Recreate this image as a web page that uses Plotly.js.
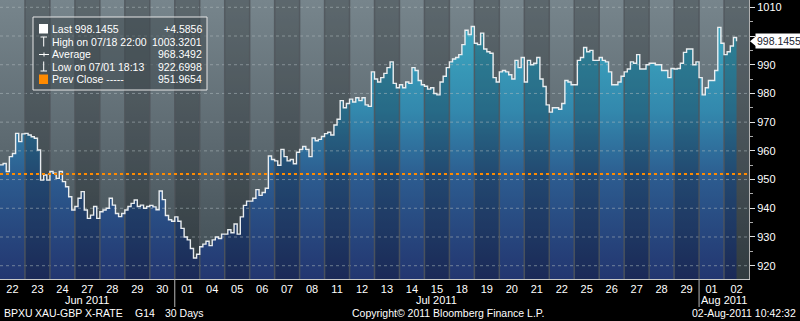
<!DOCTYPE html>
<html><head><meta charset="utf-8">
<script src="https://cdn.plot.ly/plotly-3.0.1.min.js"></script>
<style>html,body{margin:0;padding:0;background:#000;overflow:hidden}#chart{width:800px;height:321px;}</style>
</head><body><div id="chart"></div>
<script>
// ---- data ----
const days = ['22','23','24','27','28','29','30','01','04','05','06','07','08','11','12','13','14','15','18','19','20','21','22','25','26','27','28','29','01','02'];
const monthLabels = ['Jun 2011','Jul 2011','Aug 2011'];
const stepsPerDay = 8;
const price = [
 955.1,955.6,952.8,958.0,959.1,966.1,963.2,965.9,   // 22 Jun
 966.1,965.5,964.9,964.4,960.3,949.8,951.6,949.8,   // 23
 952.8,952.2,950.4,952.8,949.3,947.5,944.0,939.4,   // 24
 940.6,943.5,945.8,939.4,936.5,937.6,940.6,936.5,   // 27
 938.8,939.4,940.0,943.5,941.1,938.2,937.1,938.2,   // 28
 939.4,940.6,941.7,942.9,940.6,941.1,940.0,940.6,   // 29
 941.0,940.5,939.5,946.0,943.0,937.5,936.0,935.5,   // 30
 937.0,935.5,933.0,930.0,929.0,926.0,922.7,924.0,   // 01 Jul
 926.6,927.5,928.5,927.0,929.0,930.0,929.5,931.0,   // 04
 931.0,932.5,931.5,934.5,931.0,937.0,941.0,942.5,   // 05
 942.5,943.5,946.5,944.5,945.5,947.0,958.2,957.0,   // 06
 956.5,955.0,960.5,958.0,956.5,957.0,955.5,959.5,   // 07
 960.5,961.5,960.5,958.0,964.5,963.5,964.0,965.0,   // 08
 966.0,966.5,965.5,969.0,971.0,977.5,975.0,976.5,   // 11
 978.0,977.0,978.5,977.5,978.5,976.0,975.5,987.5,   // 12
 985.0,984.0,985.5,987.0,989.0,991.0,983.5,982.0,   // 13
 983.0,982.0,984.0,983.5,989.0,988.0,984.5,983.0,   // 14
 982.5,981.5,982.0,980.0,979.5,984.0,986.0,989.0,   // 15
 991.0,992.0,992.5,993.5,997.0,1002.0,1000.5,1003.3,// 18
 997.5,997.0,1001.0,995.5,994.5,994.0,985.5,984.0,  // 19
 987.5,988.0,987.5,986.5,985.0,991.5,989.0,992.5,   // 20
 984.0,991.5,990.0,990.5,992.5,985.0,982.4,976.0,   // 21
 973.5,975.0,975.0,974.5,976.5,984.5,984.0,983.0,   // 22
 983.0,991.5,992.5,996.0,994.5,995.0,991.5,991.5,   // 25
 992.5,991.5,991.0,987.5,983.0,983.0,984.0,986.0,   // 26
 987.5,988.5,991.0,990.5,993.5,988.5,988.5,990.0,   // 27
 990.5,990.5,990.0,990.0,988.0,988.0,985.5,988.7,   // 28
 988.5,988.7,990.5,994.3,995.5,995.5,990.0,991.0,   // 29
 985.5,979.5,982.0,984.5,984.5,988.0,1003.0,997.5,  // 01 Aug
 993.5,994.5,996.5,999.5,998.1455                   // 02
];
const yTicks = [920,930,940,950,960,970,980,990,1000,1010];
const yTickText = ['920','930','940','950','960','970','980','990','','1010']; // 1000 is hidden behind the last-value tag
const yMinor = [925,935,945,955,965,975,985,995,1005];
const prevClose = 951.9654;
const lastLabel = '998.1455';
const legendLabels = ['Last 998.1455','High on 07/18 22:00','Average','Low on 07/01 18:13','Prev Close -----'];
const legendValues = ['+4.5856','1003.3201','968.3492','922.6998','951.9654'];
const footer = ['BPXU','XAU-GBP X-RATE','G14','30 Days','Copyright\u00A9 2011 Bloomberg Finance L.P.','02-Aug-2011 10:42:32'];

// ---- geometry helpers ----
const W=800,H=321,MR=51,MB=42;
const PW=W-MR, PH=H-MB;
const yMin=915.37, yMax=1012.54;
const nDays=days.length;
const px=x=>x/PW, py=y=>1-y/PH;
const FONT='Liberation Sans, Arial, sans-serif';

const xs = price.map((v,i)=>i/stepsPerDay);

// dark alternating columns
const colX=[],colY=[];
for(let d=1; d<nDays; d+=2){
  colX.push(d,d,d+1,d+1,d,null); colY.push(yMin,yMax,yMax,yMin,yMin,null);
}
// vertical boundaries
const vX=[],vY=[];
for(let d=1; d<nDays; d++){ vX.push(d,d,null); vY.push(yMin,yMax,null); }
// horizontal dotted grid
const hX=[],hY=[];
yTicks.forEach(t=>{ hX.push(0,nDays,null); hY.push(t,t,null); });

const traces=[
 {x:[0,nDays],y:[yMax,yMax],mode:'lines',line:{width:0},fill:'tozeroy',
  fillgradient:{type:'vertical',start:yMin,stop:yMax,colorscale:[[0,'#3f4c53'],[0.5,'#5d6a71'],[1,'#77858c']]},hoverinfo:'skip'},
 {x:xs,y:price,mode:'lines',line:{width:0,shape:'hv'},fill:'tozeroy',
  fillgradient:{type:'vertical',start:yMin,stop:yMax,colorscale:[[0,'#233670'],[0.35,'#2c5a8e'],[0.6,'#3388ad'],[0.85,'#3aa2bd'],[1,'#40adc5']]},hoverinfo:'skip'},
 {x:colX,y:colY,mode:'lines',line:{width:0},fill:'toself',fillcolor:'rgba(0,0,0,0.22)',hoverinfo:'skip'},
 {x:hX,y:hY,mode:'lines',line:{color:'rgba(175,185,190,0.55)',width:1,dash:'dot'},hoverinfo:'skip'},
 {x:vX,y:vY,mode:'lines',line:{color:'rgba(80,86,92,0.85)',width:1.5},hoverinfo:'skip'},
 {x:xs,y:price,mode:'lines',line:{color:'rgba(238,242,244,0.97)',width:1.4,shape:'hv'},hoverinfo:'skip'},
 {x:[0,nDays],y:[prevClose,prevClose],mode:'lines',line:{color:'#ff8a00',width:2,dash:'dot'},hoverinfo:'skip'}
];

// month ranges
const monthStart=[0];
for(let i=1;i<nDays;i++){ if(parseInt(days[i],10)<parseInt(days[i-1],10)) monthStart.push(i); }
const monthEnd = monthStart.slice(1).concat([nDays]);

const annotations=[], shapes=[];
monthLabels.forEach((m,i)=>{
  annotations.push({xref:'x',yref:'paper',x:(monthStart[i]+monthEnd[i])/2,y:py(300),text:m,showarrow:false,
    font:{family:FONT,size:11,color:'#ffffff'},xanchor:'center',yanchor:'middle'});
  if(i>0) shapes.push({type:'line',xref:'x',yref:'paper',x0:monthStart[i],x1:monthStart[i],y0:py(279),y1:py(307),line:{color:'#b8b8b8',width:1}});
});

// legend box
shapes.push({type:'rect',xref:'paper',yref:'paper',x0:px(33),x1:px(207),y0:py(17),y1:py(90),
  fillcolor:'rgba(62,72,78,0.55)',line:{color:'#e6e6e6',width:1},layer:'above'});
const rowY=[29,41.7,54.3,66.8,79.3];
legendLabels.forEach((t,i)=>{
  annotations.push({xref:'paper',yref:'paper',x:px(50),y:py(rowY[i]),text:t,showarrow:false,xanchor:'left',yanchor:'middle',
    font:{family:FONT,size:10.5,color:'#ffffff'}});
  annotations.push({xref:'paper',yref:'paper',x:px(203.5),y:py(rowY[i]),text:legendValues[i],showarrow:false,xanchor:'right',yanchor:'middle',
    font:{family:FONT,size:10.5,color:'#ffffff'}});
});
// legend icons
shapes.push({type:'rect',xref:'paper',yref:'paper',x0:px(39),x1:px(48),y0:py(24),y1:py(33.5),fillcolor:'#ffffff',line:{width:0},layer:'above'});
shapes.push({type:'rect',xref:'paper',yref:'paper',x0:px(39),x1:px(48),y0:py(74.5),y1:py(84),fillcolor:'#ff8a00',line:{width:0},layer:'above'});
const icon=(x0,y0,x1,y1)=>shapes.push({type:'line',xref:'paper',yref:'paper',x0:px(x0),x1:px(x1),y0:py(y0),y1:py(y1),line:{color:'#ffffff',width:1},layer:'above'});
icon(40.5,37,47,37); icon(43.7,37,43.7,46.5);
icon(39,54.5,49,54.5); icon(44,52.5,44,56.5);
icon(43.7,61.5,43.7,71); icon(40.5,71,47,71);

// last value label
annotations.push({xref:'paper',yref:'y',x:px(755),y:price[price.length-1],text:lastLabel,showarrow:false,xanchor:'left',yanchor:'middle',
  bgcolor:'#ffffff',borderpad:1,font:{family:FONT,size:10.5,color:'#1b2430'}});
const dy=5/ (PH/(yMax-yMin));
const lv=price[price.length-1];
shapes.push({type:'path',xref:'paper',yref:'y',path:`M ${px(750)} ${lv} L ${px(756)} ${lv+dy} L ${px(756)} ${lv-dy} Z`,fillcolor:'#ffffff',line:{width:0},layer:'above'});

// footer
const footX=[2,33,133,163,350];
footer.slice(0,5).forEach((t,i)=>annotations.push({xref:'paper',yref:'paper',x:px(footX[i]),y:py(313.5),text:t,showarrow:false,xanchor:'left',yanchor:'middle',
  font:{family:FONT,size:10.5,color:'#ffffff'}}));
annotations.push({xref:'paper',yref:'paper',x:px(798),y:py(313.5),text:footer[5],showarrow:false,xanchor:'right',yanchor:'middle',
  font:{family:FONT,size:10.5,color:'#ffffff'}});

const layout={
  width:W,height:H,margin:{l:0,r:MR,t:0,b:MB,pad:0},
  paper_bgcolor:'#000000',plot_bgcolor:'#55636a',showlegend:false,hovermode:false,
  font:{family:FONT,color:'#ffffff',size:11},
  xaxis:{range:[0,nDays],tickvals:days.map((d,i)=>i+0.5),ticktext:days,showgrid:false,zeroline:false,
    showline:true,linecolor:'#c8c8c8',linewidth:1,ticks:'',tickfont:{family:FONT,size:11,color:'#ffffff'},fixedrange:true},
  yaxis:{side:'right',range:[yMin,yMax],tickvals:yTicks,ticktext:yTickText,ticks:'outside',ticklen:5,tickcolor:'#e0e0e0',tickwidth:1,
    showline:true,linecolor:'#b0b0b0',linewidth:1,showgrid:false,zeroline:false,
    tickfont:{family:FONT,size:11,color:'#ffffff'},fixedrange:true,
    minor:{tickvals:yMinor,ticks:'outside',ticklen:3,tickcolor:'#aaaaaa',showgrid:false}},
  annotations:annotations,shapes:shapes
};
Plotly.newPlot('chart',traces,layout,{staticPlot:true,displayModeBar:false});
</script></body></html>
